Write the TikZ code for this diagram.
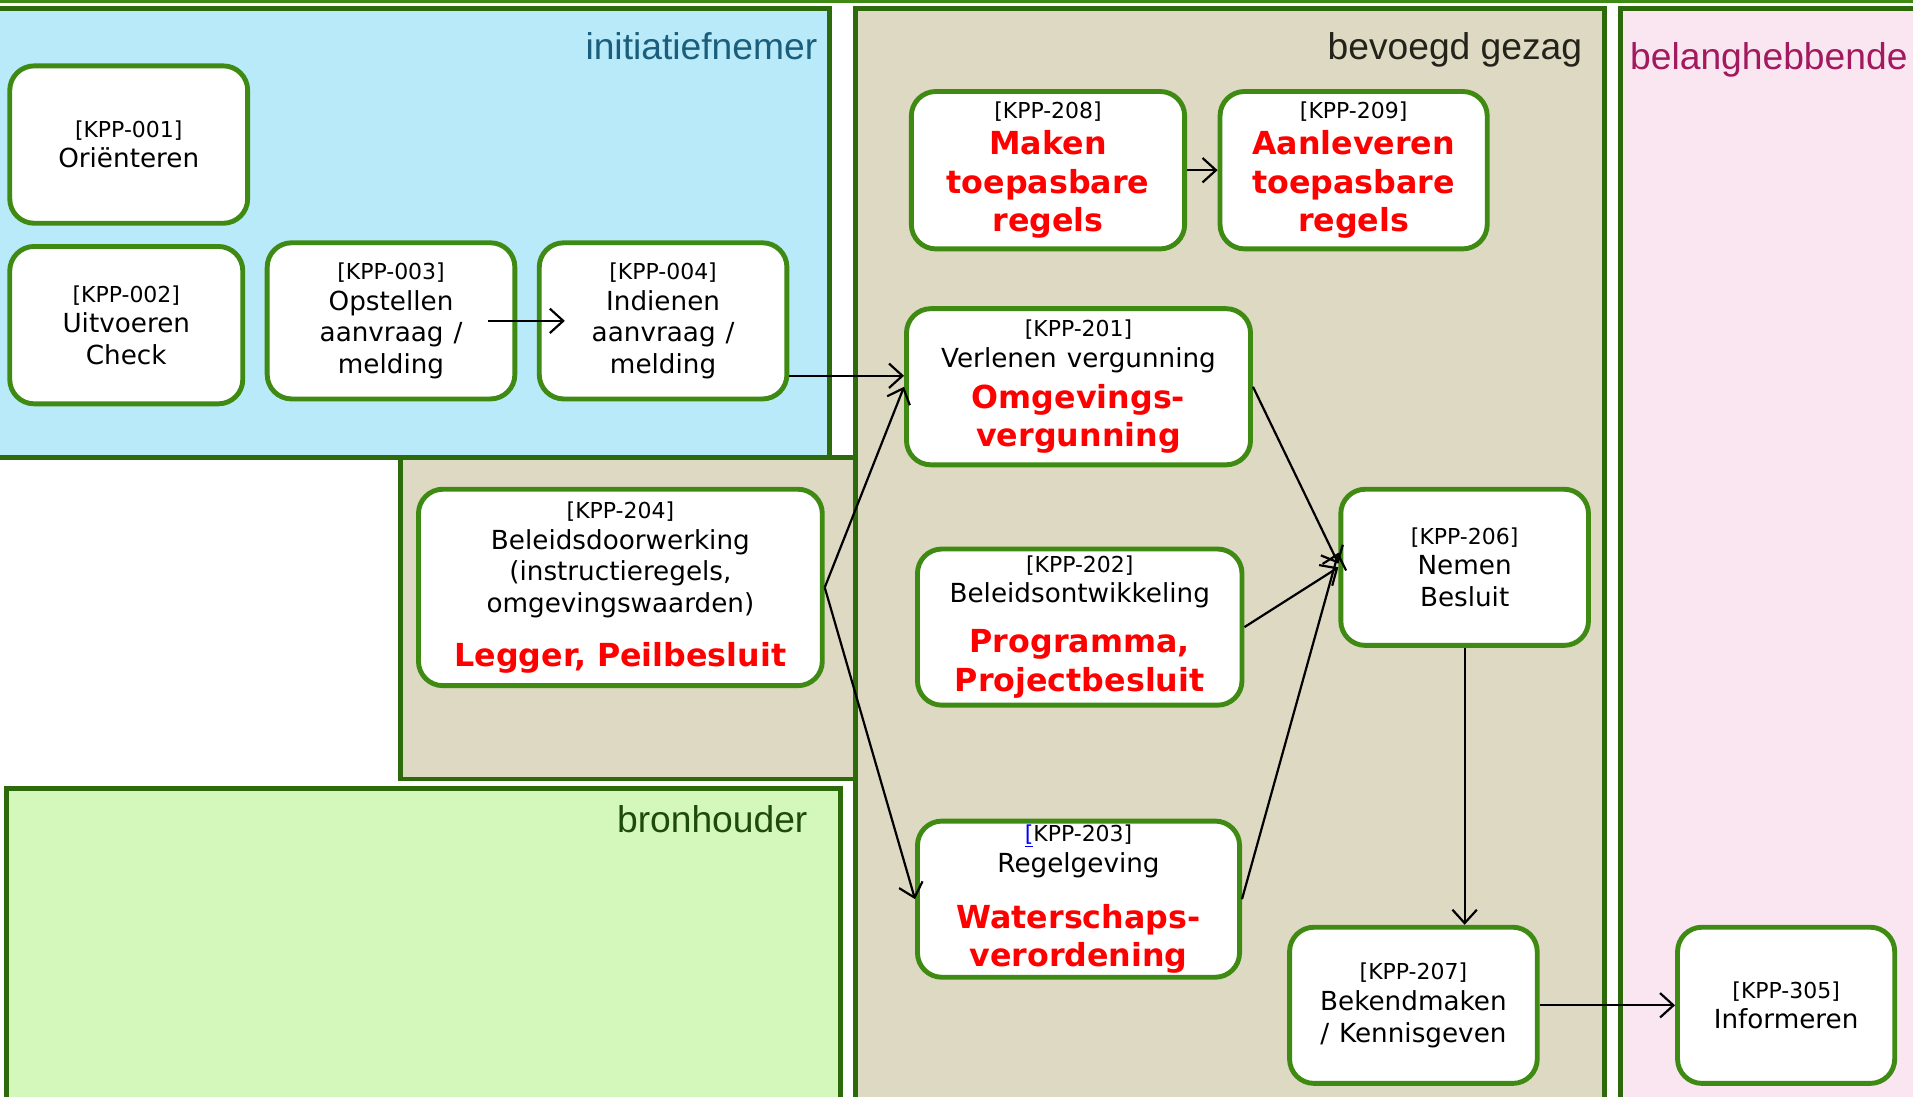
\documentclass[tikz,border=0pt]{standalone}
\usepackage{fontspec}
\setmainfont{DejaVu Sans}
\newfontfamily\ttlfont{Liberation Sans}
\usetikzlibrary{arrows.meta,calc}
\definecolor{pblue}{HTML}{B8EAFA}
\definecolor{pbeige}{HTML}{DDD9C3}
\definecolor{pgreen}{HTML}{D4F8BC}
\definecolor{ppink}{HTML}{F9E6F0}
\definecolor{pborder}{HTML}{2C6A0C}
\definecolor{nborder}{HTML}{3E8A12}
\definecolor{tblue}{HTML}{1A5E7C}
\definecolor{tdark}{HTML}{23231A}
\definecolor{tgreen}{HTML}{1E4A0C}
\definecolor{tpink}{HTML}{A3195F}
\definecolor{kred}{HTML}{FF0000}
\setlength\parindent{0pt}
\setlength\parskip{0pt}
\newcommand\klab[1]{{\fontsize{18}{25}\selectfont\spaceskip=0.35em\relax #1\par}}
\newcommand\kmain[2][26]{{\fontsize{21.5}{#1}\selectfont\spaceskip=0.38em\relax #2\par}}
\newcommand\kred[2][31.5]{{\fontsize{26}{#1}\selectfont\bfseries\spaceskip=0.35em\relax\textcolor{kred}{#2}\par}}
\tikzset{
  kpp/.style={draw=nborder, line width=4pt, fill=white, rounded corners=20pt, inner sep=0pt, align=center},
  arr/.style={-{Straight Barb[length=11pt,width=20pt]}, line width=1.8pt, black},
  panel/.style={draw=pborder, line width=4pt},
  ttl/.style={font=\ttlfont\fontsize{30.5}{36}\selectfont, inner sep=0pt},
}
\begin{document}
\begin{tikzpicture}[x=1pt,y=-1pt]
\useasboundingbox (0,0) rectangle (1568,899);
\clip (0,0) rectangle (1568,899);
\fill[white] (0,0) rectangle (1568,899);
% panels
\draw[panel, fill=pblue] (-10,7) rectangle (680,375);
\draw[panel, fill=pbeige] (328,375) rectangle (701,638.5);
\draw[panel, fill=pbeige] (701,7) rectangle (1315,920);
\draw[panel, fill=pgreen] (5,646) rectangle (689,920);
\draw[panel, fill=ppink] (1328.5,7) rectangle (1600,920);
\draw[draw=nborder, line width=2.5pt] (-5,1.2) -- (1575,1.2);
% titles
\node[ttl, text=tblue, anchor=base east] (t1) at (670,49) {initiatiefnemer};
\node[ttl, text=tdark, anchor=base east] (t2) at (1297,49) {bevoegd gezag};
\node[ttl, text=tpink, anchor=base west] (t3) at (1336,57) {belanghebbende};
\node[ttl, text=tgreen, anchor=base east] (t4) at (662,682) {bronhouder};
% nodes
\node[kpp, text width=195pt, minimum height=129pt] (n001) at (105.5,118.5) {\klab{[KPP-001]}\kmain[25]{Oriënteren}};
\node[kpp, text width=191pt, minimum height=129pt] (n002) at (103.5,266.5) {\klab{[KPP-002]}\kmain[25]{Uitvoeren}\kmain{Check}};
\node[kpp, text width=203pt, minimum height=128pt] (n003) at (320.5,263) {\klab{[KPP-003]}\kmain[25]{Opstellen}\kmain{aanvraag /}\kmain{melding}};
\node[kpp, text width=203pt, minimum height=128pt] (n004) at (543.5,263) {\klab{[KPP-004]}\kmain[25]{Indienen}\kmain{aanvraag /}\kmain{melding}};
\node[kpp, text width=224pt, minimum height=129pt] (n208) at (859,139.5) {\klab{[KPP-208]}\kred[30]{Maken}\kred{toepasbare}\kred{regels}};
\node[kpp, text width=219pt, minimum height=129pt] (n209) at (1109.5,139.5) {\klab{[KPP-209]}\kred[30]{Aanleveren}\kred{toepasbare}\kred{regels}};
\node[kpp, text width=282pt, minimum height=128pt] (n201) at (884,317) {\klab{[KPP-201]}\kmain[25]{Verlenen vergunning}\kred[34]{Omgevings-}\kred[31]{vergunning}};
\node[kpp, text width=331pt, minimum height=161pt] (n204) at (508.5,481.5) {\klab{[KPP-204]}\kmain[25]{Beleidsdoorwerking}\kmain{(instructieregels,}\kmain{omgevingswaarden)}\kred[44]{Legger, Peilbesluit}};
\node[kpp, text width=266pt, minimum height=128pt] (n202) at (885,514) {\klab{[KPP-202]}\kmain[25]{Beleidsontwikkeling}\kred[41]{Programma,}\kred[32]{Projectbesluit}};
\node[kpp, text width=203pt, minimum height=128pt] (n206) at (1200.5,465) {\klab{[KPP-206]}\kmain[25]{Nemen}\kmain{Besluit}};
\node[kpp, text width=264pt, minimum height=128pt] (n203) at (884,737) {\klab{\textcolor{blue}{\underline{[}}KPP-203]}\kmain[25]{Regelgeving}\kred[46]{Waterschaps-}\kred[31]{verordening}};
\node[kpp, text width=203pt, minimum height=128pt] (n207) at (1158.5,824) {\klab{[KPP-207]}\kmain[25]{Bekendmaken}\kmain{/ Kennisgeven}};
\node[kpp, text width=178pt, minimum height=128pt] (n305) at (1464,824) {\klab{[KPP-305]}\kmain[25]{Informeren}};
% connectors
\coordinate (a4) at ([yshift=-45pt]n004.east);
\draw[arr] ([xshift=-24pt]n003.east) -- ([xshift=23pt]n004.west);
\draw[arr] (a4) -- (a4 -| n201.west);
\draw[arr] (n204.east) -- (n201.west);
\draw[arr] (n204.east) -- (n203.west);
\draw[arr] (n201.east) -- ([yshift=3pt]n206.west);
\draw[arr] (n202.east) -- (n206.west);
\draw[arr] (n203.east) -- ([yshift=12pt]n206.west);
\draw[arr] (n208.east) -- (n209.west);
\draw[arr] (n206.south) -- (n206.south |- n207.north);
\draw[arr] (n207.east) -- (n305.west);
\end{tikzpicture}
\end{document}
